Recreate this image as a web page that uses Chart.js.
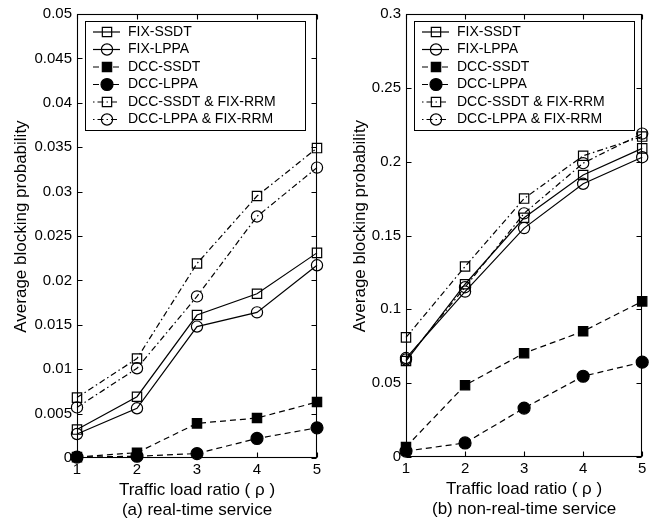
<!DOCTYPE html>
<html>
<head>
<meta charset="utf-8">
<script src="https://cdn.jsdelivr.net/npm/chart.js@4.4.0/dist/chart.umd.min.js"></script>
<style>
  html, body { margin:0; padding:0; background:#fff; }
  .wrap { display:flex; width:650px; height:528px; }
  canvas { display:block; }
</style>
</head>
<body>
<div class="wrap">
  <canvas id="rt" width="325" height="528"></canvas>
  <canvas id="nrt" width="325" height="528"></canvas>
</div>
<script>
const loadRatio = [1, 2, 3, 4, 5];
const seriesNames = ['FIX-SSDT', 'FIX-LPPA', 'DCC-SSDT', 'DCC-LPPA', 'DCC-SSDT & FIX-RRM', 'DCC-LPPA & FIX-RRM'];

// (a) real-time service
const rtFixSsdt   = [0.0032, 0.0069, 0.0161, 0.0185, 0.0231];
const rtFixLppa   = [0.0027, 0.0056, 0.0148, 0.0164, 0.0217];
const rtDccSsdt   = [0.0001, 0.0006, 0.0039, 0.0045, 0.0063];
const rtDccLppa   = [0.0001, 0.0002, 0.0005, 0.0022, 0.0034];
const rtSsdtRrm   = [0.0068, 0.0112, 0.0219, 0.0295, 0.0349];
const rtLppaRrm   = [0.0057, 0.0101, 0.0182, 0.0272, 0.0327];

// (b) non-real-time service
const nrtFixSsdt  = [0.065, 0.117, 0.162, 0.191, 0.209];
const nrtFixLppa  = [0.067, 0.112, 0.155, 0.185, 0.203];
const nrtDccSsdt  = [0.0068, 0.0486, 0.0703, 0.0851, 0.1054];
const nrtDccLppa  = [0.004, 0.0095, 0.0331, 0.0547, 0.0642];
const nrtSsdtRrm  = [0.081, 0.129, 0.175, 0.204, 0.217];
const nrtLppaRrm  = [0.066, 0.115, 0.165, 0.199, 0.219];

const FONT = '"Liberation Sans", Arial, sans-serif';
const NB = '\u00a0';

// marker / line look for each series, same order as seriesNames
const looks = [
  { shape:'rect',   filled:false, dash:[],            r:6.6 },
  { shape:'circle', filled:false, dash:[],            r:5.6 },
  { shape:'rect',   filled:true,  dash:[6,4],         r:6.6 },
  { shape:'circle', filled:true,  dash:[6,4],         r:6.0 },
  { shape:'rect',   filled:false, dash:[6,3,1.5,3],   r:6.6 },
  { shape:'circle', filled:false, dash:[6,3,1.5,3],   r:5.6 }
];

// axes box with inward ticks on all four sides
const boxPlugin = {
  id:'box',
  beforeDatasetsDraw(chart) {
    const { ctx, chartArea:a, scales:{ x, y } } = chart;
    const L = Math.round(a.left) + .5, R = Math.round(a.right) - .5;
    const T = Math.round(a.top) + .5, B = Math.round(a.bottom) - .5;
    ctx.save();
    ctx.strokeStyle = '#000'; ctx.lineWidth = 1.1;
    ctx.strokeRect(L, T, R - L, B - T);
    ctx.beginPath();
    y.ticks.forEach(t => {
      const py = Math.round(y.getPixelForValue(t.value)) + .5;
      ctx.moveTo(L, py); ctx.lineTo(L + 5, py);
      ctx.moveTo(R, py); ctx.lineTo(R - 5, py);
    });
    x.ticks.forEach(t => {
      const px = Math.round(x.getPixelForValue(t.value)) + .5;
      ctx.moveTo(px, B); ctx.lineTo(px, B - 5);
      ctx.moveTo(px, T); ctx.lineTo(px, T + 5);
    });
    ctx.stroke();
    ctx.restore();
  }
};

const legendPlugin = {
  id:'boxLegend',
  afterDatasetsDraw(chart) {
    const { ctx, chartArea:a } = chart;
    const bx = Math.round(a.left) + 8, by = Math.round(a.top) + 7, bw = 220, bh = 109;
    ctx.save();
    ctx.fillStyle = '#fff'; ctx.fillRect(bx, by, bw, bh);
    ctx.strokeStyle = '#000'; ctx.lineWidth = 1; ctx.strokeRect(bx + .5, by + .5, bw, bh);
    ctx.font = '14px ' + FONT; ctx.textBaseline = 'middle';
    chart.data.datasets.forEach((ds, i) => {
      const lk = looks[i], cy = by + 11 + i * 17.5, mx = bx + 22;
      ctx.lineWidth = 1.2;
      ctx.setLineDash(lk.dash); ctx.lineDashOffset = lk.dash.length > 2 ? 9 : 0;
      ctx.beginPath(); ctx.moveTo(bx + 8, cy); ctx.lineTo(bx + 35, cy); ctx.stroke();
      ctx.setLineDash([]);
      ctx.beginPath();
      if (lk.shape === 'rect') { const h = lk.r * Math.SQRT1_2; ctx.rect(mx - h, cy - h, 2 * h, 2 * h); }
      else ctx.arc(mx, cy, lk.r, 0, Math.PI * 2);
      ctx.fillStyle = '#000';
      if (lk.filled) ctx.fill();
      ctx.stroke();
      ctx.fillText(ds.label, bx + 43, cy);
    });
    ctx.restore();
  }
};

function makeChart(id, rows, yMax, yStep, caption, pad, yWidth) {
  return new Chart(document.getElementById(id), {
    type:'line',
    data:{
      datasets: rows.map((vals, i) => ({
        label: seriesNames[i],
        data: loadRatio.map((x, j) => ({ x, y: vals[j] })),
        borderColor:'#000', borderWidth:1.2, borderDash: looks[i].dash,
        pointStyle: looks[i].shape, pointRadius: looks[i].r,
        pointBorderColor:'#000', pointBorderWidth:1.2,
        pointBackgroundColor: looks[i].filled ? '#000' : 'rgba(0,0,0,0)',
        tension:0, clip:false
      }))
    },
    options:{
      responsive:false, animation:false, devicePixelRatio:1,
      layout:{ padding: pad },
      events:[],
      plugins:{ legend:{ display:false }, tooltip:{ enabled:false } },
      scales:{
        x:{
          type:'linear', min:1, max:5,
          grid:{ display:false, drawTicks:false }, border:{ display:false },
          ticks:{ stepSize:1, padding:3, color:'#000', font:{ family:FONT, size:15 } },
          title:{ display:true, text:['Traffic load ratio ( \u03c1 )', caption], color:'#000',
                  font:{ family:FONT, size:17, lineHeight:20/17 }, padding:{ top:0, bottom:8 } },
          afterFit: s => { s.height = 70; }
        },
        y:{
          min:0, max:yMax,
          grid:{ display:false, drawTicks:false }, border:{ display:false },
          ticks:{ stepSize:yStep, padding:5, color:'#000', font:{ family:FONT, size:15 },
                  callback: v => String(+v.toFixed(4)) },
          // leading spaces nudge the rotated title up a little, as in the original
          title:{ display:true, text:NB.repeat(4) + 'Average blocking probability', color:'#000',
                  font:{ family:FONT, size:17 }, padding:{ top:11, bottom:0 } },
          afterFit: s => { s.width = yWidth; }
        }
      }
    },
    plugins:[boxPlugin, legendPlugin]
  });
}

makeChart('rt',
  [rtFixSsdt, rtFixLppa, rtDccSsdt, rtDccLppa, rtSsdtRrm, rtLppaRrm],
  0.05, 0.005, '(a) real-time service',
  { left:0, right:8, top:12, bottom:0 }, 77);

makeChart('nrt',
  [nrtFixSsdt, nrtFixLppa, nrtDccSsdt, nrtDccLppa, nrtSsdtRrm, nrtLppaRrm],
  0.3, 0.05, '(b) non-real-time service',
  { left:14, right:4, top:11, bottom:1 }, 67);
</script>
</body>
</html>
